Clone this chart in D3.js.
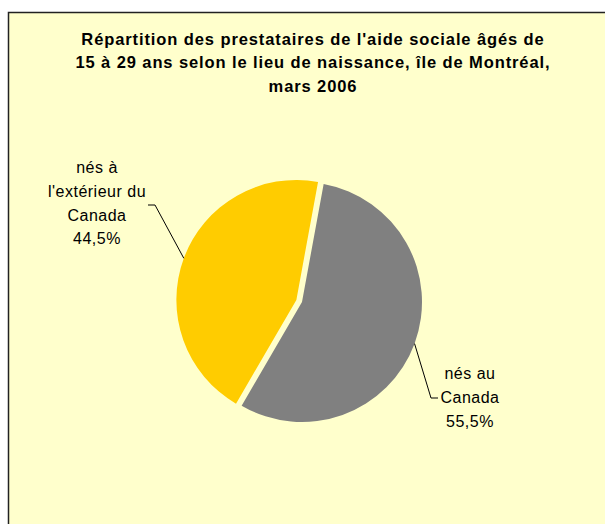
<!DOCTYPE html>
<html>
<head>
<meta charset="utf-8">
<script src="https://cdn.jsdelivr.net/npm/d3@7"></script>
<style>
  body { margin: 0; background: #fff; }
  svg { display: block; }
</style>
</head>
<body>
<svg id="chart" width="605" height="524"></svg>
<script>
// data
const categories = ["nés au Canada", "nés à l'extérieur du Canada"];
const values = [55.5, 44.5];
const labelLines = [["nés au", "Canada", "55,5%"], ["nés à", "l'extérieur du", "Canada", "44,5%"]];
const colors = ["#808080", "#FFCC00"];
const titleLines = [
  "Répartition des prestataires de l'aide sociale âgés de",
  "15 à 29 ans selon le lieu de naissance, île de Montréal,",
  "mars 2006"
];

const svg = d3.select("#chart");

// chart area frame
svg.append("rect")
  .attr("x", 8.5).attr("y", 12.5)
  .attr("width", 620).attr("height", 540)
  .attr("fill", "#FFFFCC")
  .attr("stroke", "#222").attr("stroke-width", 1.5);

// title
svg.append("text")
  .attr("text-anchor", "middle")
  .attr("font-family", "Liberation Sans, Arial, sans-serif")
  .attr("font-weight", "bold")
  .attr("font-size", "16.5px")
  .attr("letter-spacing", "0.9px")
  .attr("fill", "#000")
  .selectAll("tspan")
  .data(titleLines)
  .join("tspan")
  .attr("x", 313)
  .attr("y", (d, i) => 44.5 + i * 23.5)
  .text(d => d);

const cx = 302, cy = 302, r = 120;
const explode = [0, 6];

const pie = d3.pie().sort(null).startAngle(10.4 * Math.PI / 180).endAngle(2 * Math.PI + 10.4 * Math.PI / 180);
const arcs = pie(values);
const arc = d3.arc().innerRadius(0).outerRadius(r);

const g = svg.append("g").attr("transform", `translate(${cx},${cy})`);

g.selectAll("path")
  .data(arcs)
  .join("path")
  .attr("transform", (d, i) => {
    const a = (d.startAngle + d.endAngle) / 2;
    return `translate(${Math.sin(a) * explode[i]},${-Math.cos(a) * explode[i]})`;
  })
  .attr("d", arc)
  .attr("fill", (d, i) => colors[i]);

// labels + leader lines
const labelPos = [
  { x: 470, y: 379, bend: [431 - cx, 398 - cy], end: [438 - cx, 398 - cy] },
  { x: 97, y: 173, bend: [155 - cx, 205 - cy], end: [148 - cx, 205 - cy] }
];

arcs.forEach((d, i) => {
  const a = (d.startAngle + d.endAngle) / 2;
  const ox = Math.sin(a) * explode[i], oy = -Math.cos(a) * explode[i];
  const p0 = [ox + Math.sin(a) * r, oy - Math.cos(a) * r];
  const lp = labelPos[i];
  g.append("path")
    .attr("d", d3.line()([p0, lp.bend, lp.end]))
    .attr("fill", "none")
    .attr("stroke", "#000")
    .attr("stroke-width", 1);

  svg.append("text")
    .attr("text-anchor", "middle")
    .attr("font-family", "Liberation Sans, Arial, sans-serif")
    .attr("font-size", "16px")
    .attr("letter-spacing", "0.5px")
    .attr("fill", "#000")
    .selectAll("tspan")
    .data(labelLines[i])
    .join("tspan")
    .attr("x", lp.x)
    .attr("y", (t, j) => lp.y + j * 23.8)
    .text(t => t);
});
</script>
</body>
</html>
